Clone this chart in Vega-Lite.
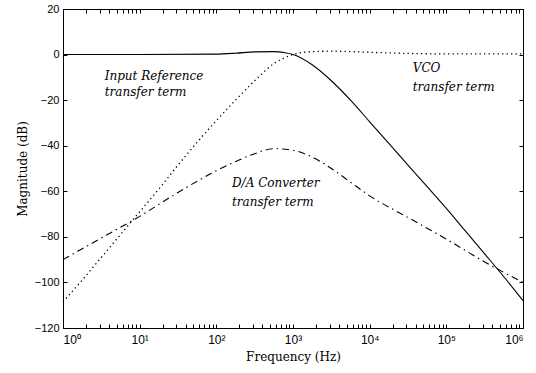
{
  "$schema": "https://vega.github.io/schema/vega-lite/v6.json",
  "autosize": "none",
  "width": 460,
  "height": 319,
  "padding": {"left": 63, "top": 9, "right": 13, "bottom": 45},
  "background": "white",
  "config": {
    "view": {"stroke": "black", "strokeWidth": 1},
    "axis": {"grid": false, "domainColor": "black", "tickColor": "black", "labelColor": "black", "titleColor": "black", "labelFont": "Liberation Sans", "labelFontSize": 11, "titleFont": "DejaVu Serif", "titleFontSize": 12, "titleFontWeight": "normal", "tickSize": -4, "tickWidth": 1, "labelPadding": 10}
  },
  "datasets": {
    "input": [
      {"f": 1, "db": 0}, {"f": 10, "db": 0}, {"f": 100, "db": 0.2}, {"f": 177.8, "db": 0.6},
      {"f": 316.2, "db": 1.2}, {"f": 562.3, "db": 1.3}, {"f": 794, "db": 0.8}, {"f": 1000, "db": 0},
      {"f": 1778, "db": -4.5}, {"f": 3162, "db": -11.5}, {"f": 5623, "db": -20}, {"f": 10000, "db": -29.5},
      {"f": 17783, "db": -39}, {"f": 31623, "db": -48.5}, {"f": 56234, "db": -58}, {"f": 100000, "db": -67.5},
      {"f": 177828, "db": -77.5}, {"f": 316228, "db": -87.5}, {"f": 562341, "db": -97.5}, {"f": 1000000, "db": -108}
    ],
    "vco": [
      {"f": 1, "db": -108.5}, {"f": 1.778, "db": -99}, {"f": 3.162, "db": -89}, {"f": 5.623, "db": -79},
      {"f": 10, "db": -69}, {"f": 17.78, "db": -59}, {"f": 31.62, "db": -48.5}, {"f": 56.23, "db": -38.5},
      {"f": 100, "db": -29}, {"f": 177.8, "db": -20}, {"f": 316.2, "db": -11.5}, {"f": 562.3, "db": -4},
      {"f": 1000, "db": 0}, {"f": 1778, "db": 1.3}, {"f": 3162, "db": 1.5}, {"f": 10000, "db": 1},
      {"f": 31623, "db": 0.5}, {"f": 100000, "db": 0.3}, {"f": 1000000, "db": 0.3}
    ],
    "da": [
      {"f": 1, "db": -90}, {"f": 3.162, "db": -80.5}, {"f": 10, "db": -71}, {"f": 31.62, "db": -60.5},
      {"f": 100, "db": -51}, {"f": 177.8, "db": -47}, {"f": 316.2, "db": -43.5}, {"f": 562.3, "db": -41.3},
      {"f": 1000, "db": -42}, {"f": 1778, "db": -45}, {"f": 3162, "db": -50}, {"f": 5623, "db": -56},
      {"f": 10000, "db": -62}, {"f": 31623, "db": -71.5}, {"f": 100000, "db": -81}, {"f": 316228, "db": -91},
      {"f": 1000000, "db": -100}
    ],
    "labels": [
      {"label": "Input Reference", "f": 3.5, "db": -9.4},
      {"label": "transfer term", "f": 3.5, "db": -16.5},
      {"label": "VCO", "f": 36500, "db": -5.9},
      {"label": "transfer term", "f": 36500, "db": -14.2},
      {"label": "D/A Converter", "f": 160, "db": -56.4},
      {"label": "transfer term", "f": 160, "db": -64.7}
    ]
  },
  "layer": [
    {
      "data": {"name": "input"},
      "mark": {"type": "line", "color": "black", "strokeWidth": 1.1, "interpolate": "monotone"},
      "encoding": {
        "x": {"field": "f", "type": "quantitative", "scale": {"type": "log", "domain": [1, 1000000], "nice": false},
          "axis": {"orient": "bottom", "title": "Frequency (Hz)", "titlePadding": 6,
            "values": [1,2,3,4,5,6,7,8,9,10,20,30,40,50,60,70,80,90,100,200,300,400,500,600,700,800,900,1000,2000,3000,4000,5000,6000,7000,8000,9000,10000,20000,30000,40000,50000,60000,70000,80000,90000,100000,200000,300000,400000,500000,600000,700000,800000,900000,1000000],
            "labelExpr": "datum.value == 1 ? '10⁰' : datum.value == 10 ? '10¹' : datum.value == 100 ? '10²' : datum.value == 1000 ? '10³' : datum.value == 10000 ? '10⁴' : datum.value == 100000 ? '10⁵' : datum.value == 1000000 ? '10⁶' : ''",
            "labelFontSize": 12}},
        "y": {"field": "db", "type": "quantitative", "scale": {"domain": [-120, 20], "nice": false},
          "axis": {"orient": "left", "title": "Magnitude (dB)", "values": [-120,-100,-80,-60,-40,-20,0,20], "labelPadding": 8, "titlePadding": 5}}
      }
    },
    {
      "data": {"name": "vco"},
      "mark": {"type": "line", "color": "black", "strokeWidth": 1.3, "strokeDash": [1.3, 3.2], "interpolate": "monotone"},
      "encoding": {
        "x": {"field": "f", "type": "quantitative",
          "axis": {"orient": "top", "title": null, "labels": false, "domain": false,
            "values": [1,2,3,4,5,6,7,8,9,10,20,30,40,50,60,70,80,90,100,200,300,400,500,600,700,800,900,1000,2000,3000,4000,5000,6000,7000,8000,9000,10000,20000,30000,40000,50000,60000,70000,80000,90000,100000,200000,300000,400000,500000,600000,700000,800000,900000,1000000]}},
        "y": {"field": "db", "type": "quantitative",
          "axis": {"orient": "right", "title": null, "labels": false, "domain": false, "values": [-120,-100,-80,-60,-40,-20,0,20]}}
      }
    },
    {
      "data": {"name": "da"},
      "mark": {"type": "line", "color": "black", "strokeWidth": 1.1, "strokeDash": [7, 4, 1.5, 4], "interpolate": "monotone"},
      "encoding": {
        "x": {"field": "f", "type": "quantitative", "axis": null},
        "y": {"field": "db", "type": "quantitative", "axis": null}
      }
    },
    {
      "data": {"name": "labels"},
      "mark": {"type": "text", "align": "left", "baseline": "middle", "font": "DejaVu Serif", "fontStyle": "italic", "fontSize": 12, "color": "black"},
      "encoding": {
        "x": {"field": "f", "type": "quantitative", "axis": null},
        "y": {"field": "db", "type": "quantitative", "axis": null},
        "text": {"field": "label"}
      }
    }
  ],
  "resolve": {"axis": {"x": "independent", "y": "independent"}}
}
